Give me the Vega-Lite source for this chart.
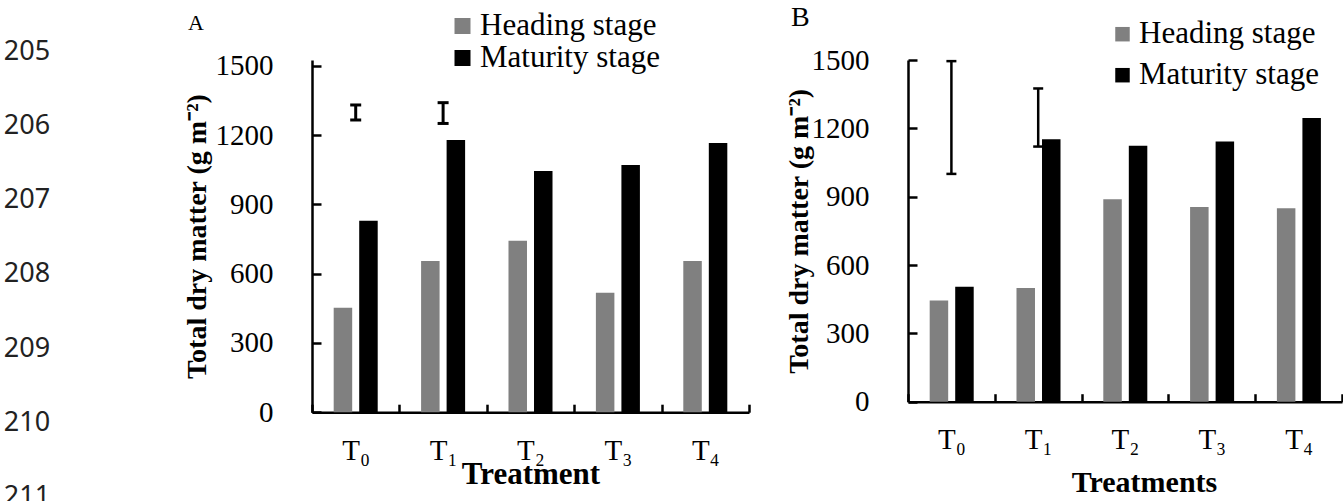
{
  "$schema": "https://vega.github.io/schema/vega-lite/v6.json",
  "background": "white",
  "padding": {"left": 0, "top": 3, "right": 0, "bottom": 0},
  "config": {
    "view": {"stroke": null},
    "axis": {"grid": false, "domainColor": "#000000", "tickColor": "#000000", "labelColor": "#000000", "titleColor": "#000000", "labelFont": "Liberation Serif", "titleFont": "Liberation Serif", "domainWidth": 2.5, "tickWidth": 2.5},
    "legend": {"labelFont": "Liberation Serif", "labelColor": "#000000", "labelLimit": 0},
    "title": {"font": "Liberation Serif", "color": "#000000", "fontWeight": "normal", "frame": "group"}
  },
  "datasets": {
    "bars": [
      {"panel": "A", "treatment": "T₀", "stage": "Heading stage", "value": 452},
      {"panel": "A", "treatment": "T₀", "stage": "Maturity stage", "value": 829},
      {"panel": "A", "treatment": "T₁", "stage": "Heading stage", "value": 655},
      {"panel": "A", "treatment": "T₁", "stage": "Maturity stage", "value": 1178},
      {"panel": "A", "treatment": "T₂", "stage": "Heading stage", "value": 742},
      {"panel": "A", "treatment": "T₂", "stage": "Maturity stage", "value": 1044},
      {"panel": "A", "treatment": "T₃", "stage": "Heading stage", "value": 517},
      {"panel": "A", "treatment": "T₃", "stage": "Maturity stage", "value": 1070},
      {"panel": "A", "treatment": "T₄", "stage": "Heading stage", "value": 655},
      {"panel": "A", "treatment": "T₄", "stage": "Maturity stage", "value": 1165},
      {"panel": "B", "treatment": "T₀", "stage": "Heading stage", "value": 444},
      {"panel": "B", "treatment": "T₀", "stage": "Maturity stage", "value": 505},
      {"panel": "B", "treatment": "T₁", "stage": "Heading stage", "value": 499},
      {"panel": "B", "treatment": "T₁", "stage": "Maturity stage", "value": 1152},
      {"panel": "B", "treatment": "T₂", "stage": "Heading stage", "value": 889},
      {"panel": "B", "treatment": "T₂", "stage": "Maturity stage", "value": 1124},
      {"panel": "B", "treatment": "T₃", "stage": "Heading stage", "value": 855},
      {"panel": "B", "treatment": "T₃", "stage": "Maturity stage", "value": 1142},
      {"panel": "B", "treatment": "T₄", "stage": "Heading stage", "value": 849},
      {"panel": "B", "treatment": "T₄", "stage": "Maturity stage", "value": 1245}
    ],
    "errors": [
      {"panel": "A", "treatment": "T₀", "low": 1265, "high": 1330},
      {"panel": "A", "treatment": "T₁", "low": 1250, "high": 1340},
      {"panel": "B", "treatment": "T₀", "low": 1000, "high": 1495},
      {"panel": "B", "treatment": "T₁", "low": 1120, "high": 1375}
    ],
    "lines": [
      {"line": 205}, {"line": 206}, {"line": 207}, {"line": 208}, {"line": 209}, {"line": 210}, {"line": 211}
    ]
  },
  "spacing": 129,
  "hconcat": [
    {
      "width": 54,
      "height": 441,
      "data": {"name": "lines"},
      "mark": {"type": "text", "font": "Noto Sans", "fontSize": 27, "color": "#222222"},
      "encoding": {
        "y": {"field": "line", "type": "quantitative", "scale": {"domain": [205.112, 211.055], "reverse": true, "zero": false, "nice": false}, "axis": null},
        "text": {"field": "line", "type": "nominal"}
      }
    },
    {
      "spacing": 34,
      "resolve": {"scale": {"x": "independent", "y": "independent", "color": "independent"}, "legend": {"color": "independent"}},
      "hconcat": [
        {
          "width": 437,
          "height": 352.2,
          "title": {"text": "A", "anchor": "start", "dx": -124, "offset": -24, "fontSize": 22},
          "layer": [
            {
              "data": {"name": "bars"},
              "transform": [{"filter": "datum.panel === 'A'"}],
              "mark": {"type": "bar"},
              "encoding": {
                "x": {"field": "treatment", "type": "nominal", "scale": {"domain": ["T₀", "T₁", "T₂", "T₃", "T₄"], "paddingInner": 0, "paddingOuter": 0},
                  "axis": {"title": "Treatment", "titleFontSize": 31, "titleFontWeight": "bold", "titlePadding": -6, "labelFontSize": 29, "labelAngle": 0, "labelPadding": 32, "tickBand": "extent", "tickSize": -8}},
                "xOffset": {"field": "stage", "type": "nominal", "scale": {"domain": ["Heading stage", "Maturity stage"], "paddingInner": 0.275, "paddingOuter": 0.85}},
                "y": {"field": "value", "type": "quantitative", "scale": {"domain": [0, 1524.7], "nice": false},
                  "axis": {"values": [0, 300, 600, 900, 1200, 1500], "format": "d", "title": "Total dry matter (g m⁻²)", "titleFontSize": 28, "titleFontWeight": "bold", "titlePadding": 4, "labelFontSize": 29, "labelPadding": 48, "tickSize": -9}},
                "color": {"field": "stage", "type": "nominal", "scale": {"domain": ["Heading stage", "Maturity stage"], "range": ["#808080", "#000000"]},
                  "legend": {"orient": "none", "legendX": 135, "legendY": -49.5, "title": null, "symbolType": "square", "symbolSize": 256, "symbolStrokeWidth": 0, "labelFontSize": 31, "labelOffset": 2, "rowPadding": 0, "padding": 0}}
              }
            },
            {
              "data": {"name": "errors"},
              "transform": [{"filter": "datum.panel === 'A'"}],
              "mark": {"type": "rule", "strokeWidth": 3, "color": "#000000"},
              "encoding": {
                "x": {"field": "treatment", "type": "nominal"},
                "y": {"field": "low", "type": "quantitative"},
                "y2": {"field": "high"}
              }
            },
            {
              "data": {"name": "errors"},
              "transform": [{"filter": "datum.panel === 'A'"}],
              "mark": {"type": "tick", "size": 11, "thickness": 3, "color": "#000000", "opacity": 1},
              "encoding": {
                "x": {"field": "treatment", "type": "nominal"},
                "y": {"field": "low", "type": "quantitative"}
              }
            },
            {
              "data": {"name": "errors"},
              "transform": [{"filter": "datum.panel === 'A'"}],
              "mark": {"type": "tick", "size": 11, "thickness": 3, "color": "#000000", "opacity": 1},
              "encoding": {
                "x": {"field": "treatment", "type": "nominal"},
                "y": {"field": "high", "type": "quantitative"}
              }
            }
          ]
        },
        {
          "width": 434,
          "height": 341.7,
          "title": {"text": "B", "anchor": "start", "dx": -117, "offset": -13, "fontSize": 28},
          "layer": [
            {
              "data": {"name": "bars"},
              "transform": [{"filter": "datum.panel === 'B'"}],
              "mark": {"type": "bar"},
              "encoding": {
                "x": {"field": "treatment", "type": "nominal", "scale": {"domain": ["T₀", "T₁", "T₂", "T₃", "T₄"], "paddingInner": 0, "paddingOuter": 0},
                  "axis": {"title": "Treatments", "titleFontSize": 30, "titleFontWeight": "bold", "titlePadding": 13, "titleX": 236, "labelFontSize": 29, "labelAngle": 0, "labelPadding": 32, "tickBand": "extent", "tickSize": -8}},
                "xOffset": {"field": "stage", "type": "nominal", "scale": {"domain": ["Heading stage", "Maturity stage"], "paddingInner": 0.275, "paddingOuter": 0.85}},
                "y": {"field": "value", "type": "quantitative", "scale": {"domain": [0, 1500], "nice": false},
                  "axis": {"values": [0, 300, 600, 900, 1200, 1500], "format": "d", "title": "Total dry matter (g m⁻²)", "titleFontSize": 28, "titleFontWeight": "bold", "titlePadding": -2.3, "labelFontSize": 29, "labelPadding": 48, "tickSize": -9}},
                "color": {"field": "stage", "type": "nominal", "scale": {"domain": ["Heading stage", "Maturity stage"], "range": ["#808080", "#000000"]},
                  "legend": {"orient": "none", "legendX": 199, "legendY": -41.3, "title": null, "symbolType": "square", "symbolSize": 210, "symbolStrokeWidth": 0, "labelFontSize": 31, "labelOffset": 1, "rowPadding": 9, "padding": 0}}
              }
            },
            {
              "data": {"name": "errors"},
              "transform": [{"filter": "datum.panel === 'B'"}],
              "mark": {"type": "rule", "strokeWidth": 2.5, "color": "#000000"},
              "encoding": {
                "x": {"field": "treatment", "type": "nominal"},
                "y": {"field": "low", "type": "quantitative"},
                "y2": {"field": "high"}
              }
            },
            {
              "data": {"name": "errors"},
              "transform": [{"filter": "datum.panel === 'B'"}],
              "mark": {"type": "tick", "size": 10, "thickness": 2.5, "color": "#000000", "opacity": 1},
              "encoding": {
                "x": {"field": "treatment", "type": "nominal"},
                "y": {"field": "low", "type": "quantitative"}
              }
            },
            {
              "data": {"name": "errors"},
              "transform": [{"filter": "datum.panel === 'B'"}],
              "mark": {"type": "tick", "size": 10, "thickness": 2.5, "color": "#000000", "opacity": 1},
              "encoding": {
                "x": {"field": "treatment", "type": "nominal"},
                "y": {"field": "high", "type": "quantitative"}
              }
            }
          ]
        }
      ]
    }
  ]
}
